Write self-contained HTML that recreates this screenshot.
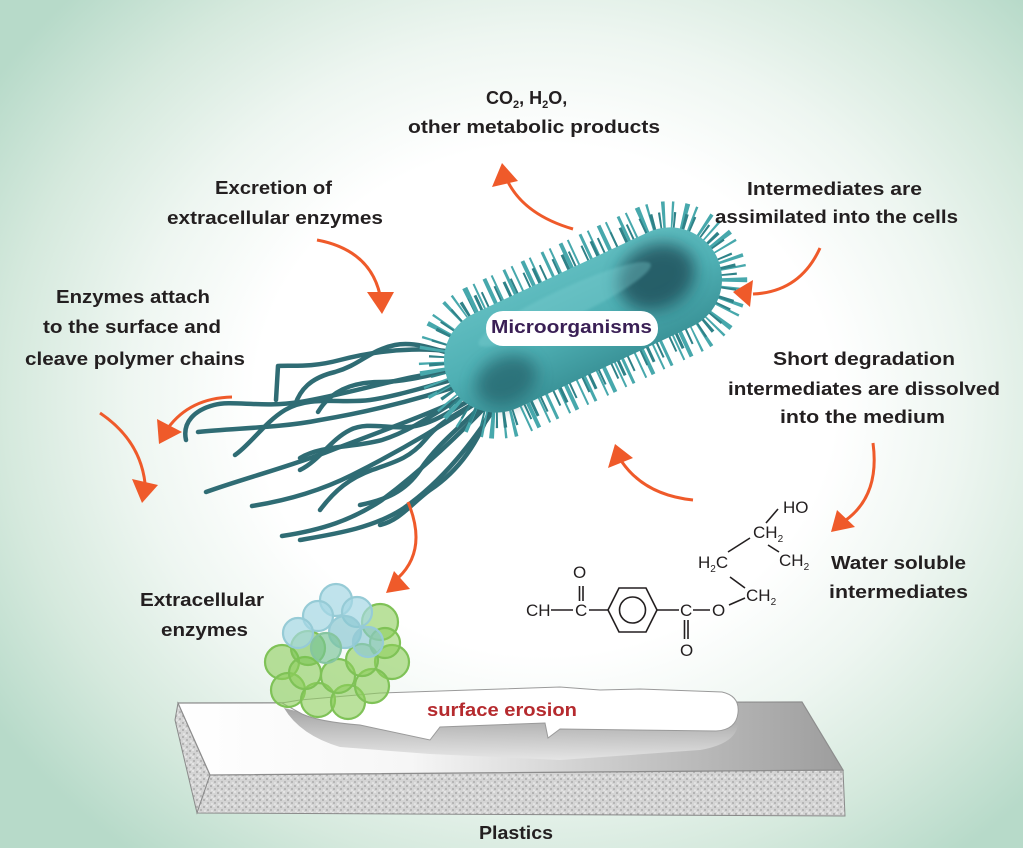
<!DOCTYPE html>
<html><head><meta charset="utf-8">
<style>
html,body{margin:0;padding:0;}
body{width:1023px;height:848px;overflow:hidden;position:relative;
background:radial-gradient(ellipse 660px 580px at 545px 400px,#ffffff 0%,#ffffff 44%,#eef6f1 63%,#d5e9dd 82%,#b7dac9 100%);}
svg{position:absolute;left:0;top:0;}
.t{font-family:"Liberation Sans",Arial,sans-serif;font-weight:bold;font-size:18px;fill:#231f20;}
.c{font-family:"Liberation Sans",Arial,sans-serif;font-size:17px;fill:#231f20;}
</style></head>
<body>
<svg width="1023" height="848" viewBox="0 0 1023 848" xmlns="http://www.w3.org/2000/svg">
<defs>
<linearGradient id="top" x1="0" y1="0" x2="1" y2="0">
<stop offset="0" stop-color="#ffffff"/><stop offset="0.35" stop-color="#f6f6f6"/><stop offset="0.7" stop-color="#c4c4c4"/><stop offset="1" stop-color="#9d9d9d"/>
</linearGradient>
<linearGradient id="shad" x1="0" y1="0" x2="0" y2="1">
<stop offset="0" stop-color="#9a9a9a"/><stop offset="1" stop-color="#e6e6e6"/>
</linearGradient>
<linearGradient id="body" x1="0" y1="0" x2="0" y2="1">
<stop offset="0" stop-color="#5fbcbf"/><stop offset="0.5" stop-color="#4fb0b4"/><stop offset="1" stop-color="#3b9499"/>
</linearGradient>
<filter id="blur" x="-50%" y="-50%" width="200%" height="200%"><feGaussianBlur stdDeviation="8"/></filter>
<filter id="blur2" x="-50%" y="-50%" width="200%" height="200%"><feGaussianBlur stdDeviation="1.2"/></filter>
<pattern id="spk" width="7" height="7" patternUnits="userSpaceOnUse">
<rect width="7" height="7" fill="#d4d4d4"/>
<circle cx="1" cy="2" r="1" fill="#a8a8a8"/><circle cx="5" cy="5" r="1.1" fill="#b3b3b3"/>
<circle cx="4" cy="1" r="0.9" fill="#efefef"/><circle cx="2" cy="6" r="0.8" fill="#f2f2f2"/>
</pattern>
</defs>

<!-- ===== Slab ===== -->
<polygon points="178,703 210,775 197,813 175,720" fill="url(#spk)" stroke="#8a8a8a" stroke-width="1"/>
<polygon points="210,775 843,770 845,816 197,813" fill="url(#spk)" stroke="#8a8a8a" stroke-width="1"/>
<polygon points="178,703 802,702 843,770 210,775" fill="url(#top)" stroke="#8d8d8d" stroke-width="1.2"/>
<path d="M284,708 Q300,735 340,747 L430,754 L560,760 L700,750 Q735,744 738,725 L730,712 L300,712 Z" fill="url(#shad)" opacity="0.9"/>
<path d="M282,703 L300,700 L380,693 L470,690 L560,687 L600,690 L640,689 L722,692 Q740,696 738,713 Q736,730 716,731 L560,729 L548,738 L545,723 L440,727 L430,740 L360,725 Q320,722 302,714 Z" fill="#ffffff" stroke="#9a9a9a" stroke-width="1"/>

<!-- ===== Enzyme cluster ===== -->
<g stroke-width="2.2">
<circle cx="380" cy="622" r="18" fill="rgba(140,205,90,0.6)" stroke="#7fc257"/>
<circle cx="392" cy="662" r="17" fill="rgba(140,205,90,0.6)" stroke="#7fc257"/>
<circle cx="282" cy="662" r="17" fill="rgba(140,205,90,0.6)" stroke="#7fc257"/>
<circle cx="288" cy="690" r="17" fill="rgba(140,205,90,0.6)" stroke="#7fc257"/>
<circle cx="318" cy="700" r="17" fill="rgba(140,205,90,0.6)" stroke="#7fc257"/>
<circle cx="348" cy="702" r="17" fill="rgba(140,205,90,0.6)" stroke="#7fc257"/>
<circle cx="372" cy="686" r="17" fill="rgba(140,205,90,0.6)" stroke="#7fc257"/>
<circle cx="338" cy="676" r="17" fill="rgba(140,205,90,0.6)" stroke="#7fc257"/>
<circle cx="305" cy="673" r="16" fill="rgba(140,205,90,0.6)" stroke="#7fc257"/>
<circle cx="308" cy="648" r="17" fill="rgba(120,195,80,0.6)" stroke="#7fc257"/>
<circle cx="362" cy="660" r="16" fill="rgba(140,205,90,0.6)" stroke="#7fc257"/>
<circle cx="385" cy="643" r="15" fill="rgba(140,205,90,0.55)" stroke="#7fc257"/>
<circle cx="336" cy="600" r="16" fill="rgba(165,215,228,0.7)" stroke="#96cbd6"/>
<circle cx="357" cy="612" r="15" fill="rgba(165,215,228,0.7)" stroke="#96cbd6"/>
<circle cx="318" cy="616" r="15" fill="rgba(165,215,228,0.7)" stroke="#96cbd6"/>
<circle cx="345" cy="632" r="16" fill="rgba(140,200,210,0.7)" stroke="#96cbd6"/>
<circle cx="298" cy="633" r="15" fill="rgba(165,215,228,0.7)" stroke="#96cbd6"/>
<circle cx="368" cy="642" r="15" fill="rgba(140,200,210,0.65)" stroke="#96cbd6"/>
<circle cx="326" cy="648" r="15" fill="rgba(120,195,150,0.65)" stroke="#86c5a0"/>
</g>

<!-- ===== Flagella ===== -->
<g fill="none" stroke="#2f6c74" stroke-width="4.5" stroke-linecap="round" stroke-linejoin="round">
<path d="M478,358 C440,345 385,348 340,360 C310,368 292,365 278,366 L276,400"/>
<path d="M472,370 C420,370 360,392 300,402 C262,408 232,400 214,405 C195,410 182,422 186,440"/>
<path d="M476,380 C430,396 380,410 320,420 C280,428 235,428 198,432"/>
<path d="M480,390 C440,410 385,430 332,450 C292,466 245,478 206,492"/>
<path d="M486,396 C452,420 402,450 352,475 C322,490 290,500 252,506"/>
<path d="M490,402 C462,432 422,470 382,500 C352,520 322,530 282,536"/>
<path d="M496,406 C474,440 444,480 404,508 C374,528 335,534 300,540"/>
<path d="M482,386 C452,400 420,428 382,440 C352,448 322,445 300,458"/>
<path d="M470,366 C440,372 410,382 380,382 C350,382 330,392 318,412"/>
<path d="M488,398 C470,420 440,440 420,470 C405,492 385,500 360,505"/>
<path d="M484,392 C460,405 440,420 420,425 C395,432 370,420 350,430 C330,440 320,460 300,470"/>
<path d="M474,375 C445,380 405,395 370,400 C340,404 310,395 285,410 C265,422 250,445 235,455"/>
<path d="M492,404 C480,440 460,470 430,490 C410,505 400,520 380,525"/>
<path d="M478,362 C450,355 420,340 395,345 C370,350 360,365 335,372 C310,378 300,390 295,405"/>
<path d="M486,394 C470,410 445,415 425,440 C410,458 395,462 372,470 C350,478 335,490 320,510"/>
</g>

<!-- ===== Bacterium body ===== -->
<g transform="translate(583,320) rotate(-25)">
<rect x="-158" y="-64" width="316" height="128" rx="64" fill="none" stroke="#47a8ac" stroke-width="30" stroke-dasharray="3 6 2 9 4 5 2 11" />
<rect x="-154" y="-59" width="308" height="118" rx="59" fill="none" stroke="#2f8288" stroke-width="18" stroke-dasharray="2 8 3 5 2 12" stroke-dashoffset="4"/>
<rect x="-148" y="-52" width="296" height="104" rx="52" fill="url(#body)"/>
<ellipse cx="85" cy="-8" rx="40" ry="32" fill="#1c4c56" opacity="0.8" filter="url(#blur)"/>
<ellipse cx="-95" cy="22" rx="32" ry="24" fill="#245f68" opacity="0.7" filter="url(#blur)"/>
<ellipse cx="-10" cy="-22" rx="95" ry="15" fill="#7fd0d2" opacity="0.35" filter="url(#blur2)"/>
</g>

<!-- Microorganisms pill -->
<rect x="486" y="311" width="172" height="35" rx="17" fill="#ffffff"/>
<text x="491" y="333" class="t" style="fill:#3a1f55" textLength="161" lengthAdjust="spacingAndGlyphs">Microorganisms</text>

<!-- ===== Arrows ===== -->
<g fill="none" stroke="#ef5a2a" stroke-width="3">
<path d="M573,229 Q525,215 508,182"/>
<path d="M317,240 Q370,250 380,295"/>
<path d="M820,248 Q800,292 753,294"/>
<path d="M232,397 Q190,398 168,428"/>
<path d="M100,413 Q140,440 145,483"/>
<path d="M408,502 Q428,550 398,578"/>
<path d="M693,500 Q645,495 622,462"/>
<path d="M873,443 Q880,495 846,520"/>
</g>
<g fill="#ef5a2a">
<polygon points="502,163 492,187 518,181"/>
<polygon points="382,314 367,292 394,292"/>
<polygon points="733,292 753,280 750,307"/>
<polygon points="159,444 157,419 182,432"/>
<polygon points="142,503 132,479 158,485"/>
<polygon points="386,593 394,571 410,589"/>
<polygon points="615,444 608,468 633,458"/>
<polygon points="831,532 837,510 855,527"/>
</g>

<!-- ===== Labels ===== -->
<text x="486" y="104" class="t">CO<tspan font-size="11" dy="4">2</tspan><tspan dy="-4">, H</tspan><tspan font-size="11" dy="4">2</tspan><tspan dy="-4">O,</tspan></text>
<text x="408" y="133" class="t" textLength="252" lengthAdjust="spacingAndGlyphs">other metabolic products</text>
<text x="215" y="194" class="t" textLength="117" lengthAdjust="spacingAndGlyphs">Excretion of</text>
<text x="167" y="224" class="t" textLength="216" lengthAdjust="spacingAndGlyphs">extracellular enzymes</text>
<text x="747" y="195" class="t" textLength="175" lengthAdjust="spacingAndGlyphs">Intermediates are</text>
<text x="715" y="223" class="t" textLength="243" lengthAdjust="spacingAndGlyphs">assimilated into the cells</text>
<text x="56" y="303" class="t" textLength="154" lengthAdjust="spacingAndGlyphs">Enzymes attach</text>
<text x="43" y="333" class="t" textLength="178" lengthAdjust="spacingAndGlyphs">to the surface and</text>
<text x="25" y="365" class="t" textLength="220" lengthAdjust="spacingAndGlyphs">cleave polymer chains</text>
<text x="773" y="365" class="t" textLength="182" lengthAdjust="spacingAndGlyphs">Short degradation</text>
<text x="728" y="395" class="t" textLength="272" lengthAdjust="spacingAndGlyphs">intermediates are dissolved</text>
<text x="780" y="423" class="t" textLength="165" lengthAdjust="spacingAndGlyphs">into the medium</text>
<text x="831" y="569" class="t" textLength="135" lengthAdjust="spacingAndGlyphs">Water soluble</text>
<text x="829" y="598" class="t" textLength="139" lengthAdjust="spacingAndGlyphs">intermediates</text>
<text x="140" y="606" class="t" textLength="124" lengthAdjust="spacingAndGlyphs">Extracellular</text>
<text x="161" y="636" class="t" textLength="87" lengthAdjust="spacingAndGlyphs">enzymes</text>
<text x="427" y="716" class="t" style="fill:#b52a2e" textLength="150" lengthAdjust="spacingAndGlyphs">surface erosion</text>
<text x="479" y="839" class="t" textLength="74" lengthAdjust="spacingAndGlyphs">Plastics</text>

<!-- ===== Chemical structure ===== -->
<g stroke="#231f20" stroke-width="1.6" fill="none">
<line x1="551" y1="610" x2="573" y2="610"/>
<line x1="579.5" y1="586" x2="579.5" y2="601"/>
<line x1="583" y1="586" x2="583" y2="601"/>
<line x1="589" y1="610" x2="608" y2="610"/>
<polygon points="608,610 619,588 646,588 657,610 646,632 619,632"/>
<circle cx="632.5" cy="610" r="13"/>
<line x1="657" y1="610" x2="679" y2="610"/>
<line x1="684.5" y1="620" x2="684.5" y2="639"/>
<line x1="688" y1="620" x2="688" y2="639"/>
<line x1="693" y1="610" x2="710" y2="610"/>
<line x1="729" y1="605" x2="745" y2="598"/>
<line x1="730" y1="577" x2="745" y2="588"/>
<line x1="728" y1="552" x2="750" y2="538"/>
<line x1="768" y1="545" x2="779" y2="552"/>
<line x1="766" y1="523" x2="778" y2="509"/>
</g>
<g>
<text x="526" y="616" class="c">CH</text>
<text x="575" y="616" class="c">C</text>
<text x="573" y="578" class="c">O</text>
<text x="680" y="616" class="c">C</text>
<text x="680" y="656" class="c">O</text>
<text x="712" y="616" class="c">O</text>
<text x="746" y="601" class="c">CH<tspan font-size="10" dy="4">2</tspan></text>
<text x="698" y="568" class="c">H<tspan font-size="10" dy="4">2</tspan><tspan dy="-4">C</tspan></text>
<text x="753" y="538" class="c">CH<tspan font-size="10" dy="4">2</tspan></text>
<text x="779" y="566" class="c">CH<tspan font-size="10" dy="4">2</tspan></text>
<text x="783" y="513" class="c">HO</text>
</g>
</svg>
</body></html>
